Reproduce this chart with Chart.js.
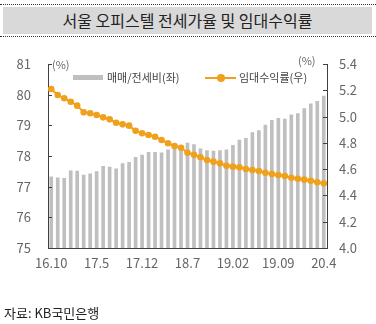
<!DOCTYPE html>
<html><head><meta charset="utf-8">
<script src="https://cdn.jsdelivr.net/npm/chart.js@4.4.1/dist/chart.umd.min.js"></script>
<style>
html,body{margin:0;padding:0;background:#fff;}
#wrap{position:relative;width:376px;height:324px;overflow:hidden;font-family:"Noto Sans CJK KR","Noto Sans",sans-serif;}
#title{position:absolute;left:0;top:4px;width:376px;height:31px;border-top:1px dotted #333;border-bottom:1px dotted #333;}
#title div{position:absolute;left:3px;right:4px;top:2px;bottom:2px;background:#d9d9d9;text-align:center;font-size:16px;line-height:27px;color:#222;}
#foot{position:absolute;left:4px;top:303px;font-size:13px;color:#222;}
.unit{position:absolute;font-size:11px;color:#666;}
.leg{position:absolute;font-size:11px;color:#444;top:69px;}
canvas{position:absolute;left:0;top:0;}
</style></head>
<body><div id="wrap">
<canvas id="c" width="376" height="324"></canvas>
<div id="title"><div>서울 오피스텔 전세가율 및 임대수익률</div></div>
<div class="unit" style="left:52px;top:56px;">(%)</div>
<div class="unit" style="left:298px;top:52px;">(%)</div>
<div style="position:absolute;left:73px;top:75px;width:30px;height:5px;background:#bfbfbf;"></div>
<div class="leg" style="left:107px;">매매/전세비(좌)</div>
<div style="position:absolute;left:205px;top:77px;width:31px;height:2px;background:#f0a11c;"></div>
<div style="position:absolute;left:217px;top:74px;width:8px;height:8px;border-radius:50%;background:#f0a11c;"></div>
<div class="leg" style="left:239px;">임대수익률(우)</div>
<div id="foot">자료: KB국민은행</div>
</div>
<script>
const categories = ["16.10","16.11","16.12","17.1","17.2","17.3","17.4","17.5","17.6","17.7","17.8","17.9","17.10","17.11","17.12",
"18.1","18.2","18.3","18.4","18.5","18.6","18.7","18.8","18.9","18.10","18.11","18.12","19.01","19.02",
"19.03","19.04","19.05","19.06","19.07","19.08","19.09","19.10","19.11","19.12","20.1","20.2","20.3","20.4"];
const shownTicks = ["16.10","17.5","17.12","18.7","19.02","19.09","20.4"];
const ratio = [77.32,77.29,77.27,77.52,77.51,77.38,77.42,77.49,77.66,77.64,77.58,77.75,77.79,77.96,78.03,
78.12,78.12,78.10,78.20,78.25,78.30,78.42,78.37,78.23,78.18,78.16,78.18,78.20,78.35,
78.52,78.58,78.76,78.83,79.01,79.16,79.23,79.20,79.34,79.38,79.55,79.70,79.78,79.95];
const yieldRate = [5.21,5.164,5.139,5.113,5.083,5.032,5.025,5.012,4.994,4.979,4.953,4.941,4.931,4.892,4.873,
4.86,4.847,4.822,4.797,4.776,4.763,4.725,4.71,4.69,4.67,4.657,4.644,4.626,4.619,
4.614,4.601,4.593,4.586,4.573,4.563,4.555,4.548,4.535,4.527,4.52,4.512,4.50,4.492];
const leftTicks = [75,76,77,78,79,80,81];
const rightTicks = [4.0,4.2,4.4,4.6,4.8,5.0,5.2,5.4];

const axisColor = '#404040';
const tickFont = {family:'"Noto Sans CJK KR","Noto Sans",sans-serif', size:13};
const innerTicks = {
  id:'innerTicks',
  afterDraw(chart){
    const ctx = chart.ctx, a = chart.chartArea;
    ctx.save(); ctx.strokeStyle = axisColor; ctx.lineWidth = 1;
    const yl = chart.scales.yL, yr = chart.scales.yR;
    leftTicks.forEach(v=>{const y=Math.round(yl.getPixelForValue(v))+0.5; ctx.beginPath(); ctx.moveTo(a.left,y); ctx.lineTo(a.left+4,y); ctx.stroke();});
    rightTicks.forEach(v=>{const y=Math.round(yr.getPixelForValue(v))+0.5; ctx.beginPath(); ctx.moveTo(a.right,y); ctx.lineTo(a.right-4,y); ctx.stroke();});
    ctx.restore();
  }
};
new Chart(document.getElementById('c'), {
  data:{
    labels:categories,
    datasets:[
      {type:'line', data:yieldRate, yAxisID:'yR', borderColor:'#f0a11c', backgroundColor:'#f0a11c', borderWidth:2,
       pointRadius:3.3, pointHoverRadius:3.3, pointBorderWidth:0, tension:0, order:0},
      {type:'bar', data:ratio, yAxisID:'yL', backgroundColor:'#bfbfbf', barThickness:3, order:1}
    ]
  },
  options:{
    responsive:false, animation:false,
    layout:{padding:{top:64, bottom:46, left:0, right:0}},
    plugins:{legend:{display:false}, tooltip:{enabled:false}},
    scales:{
      x:{grid:{display:false, drawTicks:false}, border:{color:axisColor, width:1},
         ticks:{autoSkip:false, maxRotation:0, padding:7, color:'#666', font:tickFont,
           callback:function(v,i){const l=categories[i]; return shownTicks.includes(l)?l:'';}},
         afterFit(s){s.height=30;}},
      yL:{position:'left', min:75, max:81, grid:{display:false, drawTicks:false}, border:{color:axisColor, width:1},
         afterBuildTicks(s){s.ticks=leftTicks.map(v=>({value:v}));},
         ticks:{padding:17, color:'#666', font:tickFont, callback:v=>String(v)},
         afterFit(s){s.width=48;}},
      yR:{position:'right', min:4.0, max:5.4, grid:{display:false, drawTicks:false}, border:{color:axisColor, width:1},
         afterBuildTicks(s){s.ticks=rightTicks.map(v=>({value:v}));},
         ticks:{padding:12, color:'#666', font:tickFont, callback:v=>Number(v).toFixed(1)},
         afterFit(s){s.width=49;}}
    }
  },
  plugins:[innerTicks]
});
</script>
</body></html>
